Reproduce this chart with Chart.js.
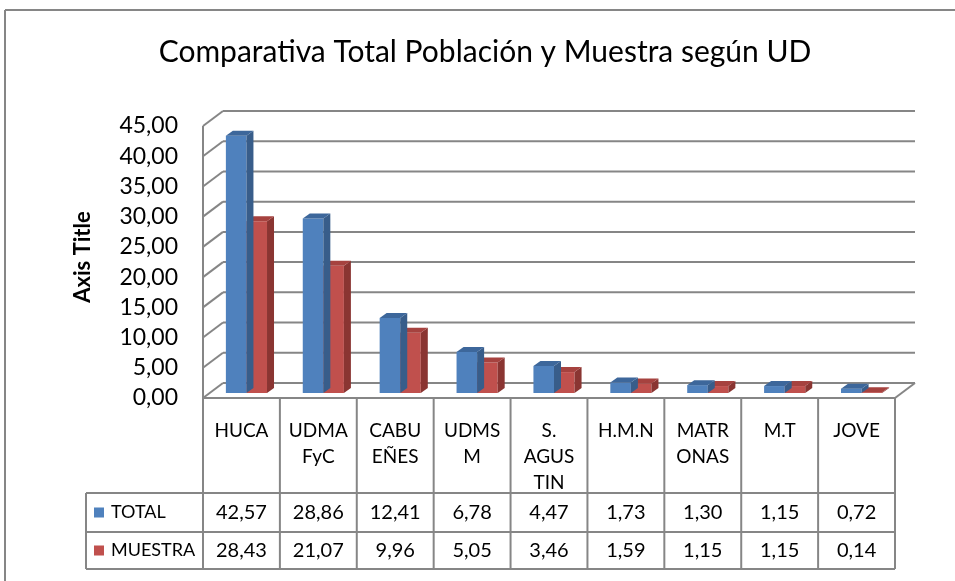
<!DOCTYPE html>
<html>
<head>
<meta charset="utf-8">
<script src="https://cdn.jsdelivr.net/npm/chart.js@4.4.0/dist/chart.umd.min.js"></script>
<style>
  html, body { margin: 0; padding: 0; background: #fff; }
  #wrap { width: 955px; height: 581px; }
</style>
</head>
<body>
<div id="wrap"><canvas id="chart" width="955" height="581"></canvas></div>
<script>
// data
const categories = [['HUCA'], ['UDMA', 'FyC'], ['CABU', 'EÑES'], ['UDMS', 'M'], ['S.', 'AGUS', 'TIN'], ['H.M.N'], ['MATR', 'ONAS'], ['M.T'], ['JOVE']];
const totalValues = [42.57, 28.86, 12.41, 6.78, 4.47, 1.73, 1.30, 1.15, 0.72];
const muestraValues = [28.43, 21.07, 9.96, 5.05, 3.46, 1.59, 1.15, 1.15, 0.14];
const seriesNames = ['TOTAL', 'MUESTRA'];
const yTicks = [0, 5, 10, 15, 20, 25, 30, 35, 40, 45];

const FONT = 'Lato, "Open Sans", sans-serif';
const GRID = '#868686';
const colors = [
    { front: '#4F81BD', side: '#385D8A', top: '#3D679B' },
    { front: '#C0504D', side: '#8A3532', top: '#A6423F' }
];
// 3d offsets relative to the plane the bars sit on
const backOff = [15, -10];
const frontOff = [-5, 5];
const barDepth = [7, -5];

const fmt = v => v.toFixed(2).replace('.', ',');

function line(ctx, x1, y1, x2, y2) {
    ctx.beginPath();
    ctx.moveTo(x1, y1);
    ctx.lineTo(x2, y2);
    ctx.stroke();
}

// walls, gridlines and floor
const wallsPlugin = {
    id: 'walls',
    beforeDatasetsDraw(chart) {
        const ctx = chart.ctx;
        const y = chart.scales.y;
        const { left, right } = chart.chartArea;
        ctx.save();
        ctx.strokeStyle = GRID;
        ctx.lineWidth = 2;
        yTicks.forEach(v => {
            const py = y.getPixelForValue(v);
            line(ctx, left + backOff[0], py + backOff[1], right + backOff[0], py + backOff[1]);
            line(ctx, left + frontOff[0], py + frontOff[1], left + backOff[0], py + backOff[1]);
        });
        const top = y.getPixelForValue(yTicks[yTicks.length - 1]);
        const zero = y.getPixelForValue(0);
        line(ctx, left + frontOff[0], top + frontOff[1], left + frontOff[0], zero + frontOff[1]);
        line(ctx, left + frontOff[0], zero + frontOff[1], right + frontOff[0], zero + frontOff[1]);
        line(ctx, right + frontOff[0], zero + frontOff[1], right + backOff[0], zero + backOff[1]);
        ctx.restore();
    },
    afterDatasetDraw(chart, args) {
        const ctx = chart.ctx;
        const c = colors[args.index];
        const [dx, dy] = barDepth;
        ctx.save();
        args.meta.data.forEach(bar => {
            const { x, y, base, width } = bar.getProps(['x', 'y', 'base', 'width'], true);
            const x1 = x - width / 2, x2 = x + width / 2;
            ctx.fillStyle = c.side;
            ctx.beginPath();
            ctx.moveTo(x2, y);
            ctx.lineTo(x2 + dx, y + dy);
            ctx.lineTo(x2 + dx, base + dy);
            ctx.lineTo(x2, base);
            ctx.closePath();
            ctx.fill();
            ctx.fillStyle = c.top;
            ctx.beginPath();
            ctx.moveTo(x1, y);
            ctx.lineTo(x1 + dx, y + dy);
            ctx.lineTo(x2 + dx, y + dy);
            ctx.lineTo(x2, y);
            ctx.closePath();
            ctx.fill();
        });
        ctx.restore();
    }
};

// data table under the plot + chart frame
const tablePlugin = {
    id: 'dataTable',
    afterDraw(chart) {
        const ctx = chart.ctx;
        const zero = chart.scales.y.getPixelForValue(0) + frontOff[1];
        const n = categories.length;
        const colW = (chart.chartArea.right - chart.chartArea.left) / n;
        const x0 = chart.chartArea.left + frontOff[0];
        const xEnd = x0 + n * colW;
        const legendLeft = 86;
        const rowTops = [zero + 95, zero + 134, zero + 171];
        ctx.save();
        ctx.strokeStyle = GRID;
        ctx.lineWidth = 2;
        // frame of the whole chart
        line(ctx, 5, 10, 955, 10);
        line(ctx, 5, 10, 5, 581);
        for (let i = 0; i <= n; i++) line(ctx, x0 + i * colW, zero, x0 + i * colW, rowTops[2]);
        rowTops.forEach(ry => line(ctx, legendLeft, ry, xEnd, ry));
        line(ctx, legendLeft, rowTops[0], legendLeft, rowTops[2]);

        ctx.fillStyle = '#000';
        ctx.textAlign = 'center';
        ctx.textBaseline = 'middle';
        ctx.font = '19px ' + FONT;
        categories.forEach((lbl, i) => {
            const cx = x0 + (i + 0.5) * colW;
            lbl.forEach((t, k) => ctx.fillText(t, cx, zero + 33 + k * 26));
        });
        [totalValues, muestraValues].forEach((vals, r) => {
            const cy = (rowTops[r] + rowTops[r + 1]) / 2;
            ctx.font = '20px ' + FONT;
            vals.forEach((v, i) => ctx.fillText(fmt(v), x0 + (i + 0.5) * colW, cy));
            ctx.fillStyle = colors[r].front;
            ctx.fillRect(legendLeft + 8, cy - 5, 10, 10);
            ctx.fillStyle = '#000';
            ctx.textAlign = 'left';
            ctx.font = '18px ' + FONT;
            ctx.fillText(seriesNames[r], legendLeft + 25, cy);
            ctx.textAlign = 'center';
        });
        ctx.restore();
    }
};

new Chart(document.getElementById('chart'), {
    type: 'bar',
    data: {
        labels: categories,
        datasets: [
            { label: seriesNames[0], data: totalValues, backgroundColor: colors[0].front, borderWidth: 0 },
            { label: seriesNames[1], data: muestraValues, backgroundColor: colors[1].front, borderWidth: 0 }
        ]
    },
    options: {
        responsive: false,
        animation: false,
        events: [],
        layout: { padding: { left: 70, right: 55, top: 25, bottom: 188 } },
        datasets: { bar: { categoryPercentage: 0.535, barPercentage: 1 } },
        plugins: {
            legend: { display: false },
            tooltip: { enabled: false },
            title: {
                display: true,
                text: 'Comparativa Total Población y Muestra según UD',
                color: '#000',
                font: { family: FONT, size: 30, weight: 'normal' },
                padding: { top: 9, bottom: 51 }
            }
        },
        scales: {
            x: { display: false, offset: true },
            y: {
                min: 0,
                max: 45,
                afterFit(scale) { scale.width = 138; },
                afterBuildTicks(scale) { scale.ticks = yTicks.map(v => ({ value: v })); },
                grid: { display: false, drawTicks: false },
                border: { display: false },
                ticks: {
                    color: '#000',
                    padding: 30,
                    labelOffset: 5,
                    autoSkip: false,
                    font: { family: FONT, size: 23 },
                    callback: v => fmt(v)
                },
                title: {
                    display: true,
                    text: 'Axis Title',
                    color: '#000',
                    padding: { top: 0, bottom: 0 },
                    font: { family: FONT, size: 22, weight: 'bold' }
                }
            }
        }
    },
    plugins: [wallsPlugin, tablePlugin]
});
</script>
</body>
</html>
